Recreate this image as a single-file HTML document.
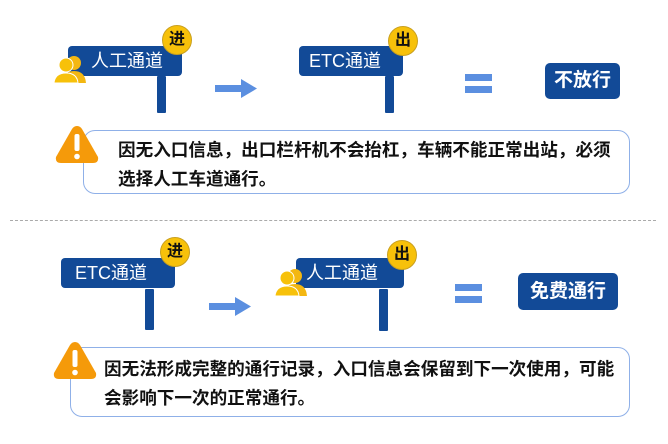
<!DOCTYPE html>
<html><head><meta charset="utf-8"><style>
body{margin:0;width:668px;height:444px;background:#fff;position:relative;overflow:hidden;font-family:"Liberation Sans","Noto Sans CJK SC",sans-serif}
.a{position:absolute}
.sign{position:absolute;background:#124a97;border-radius:4px;color:#fff;font-size:18px;line-height:30px;height:30px}
.post{position:absolute;background:#124a97;border-radius:1px}
.badge{position:absolute;width:28px;height:28px;border-radius:50%;background:#f7c10a;border:1px solid #c9a020;font-size:16px;font-weight:bold;text-align:center;line-height:28px;color:#111}
.eq{position:absolute;background:#5b8fe0;height:7px}
.res{position:absolute;background:#124a97;border-radius:5px;color:#fff;font-weight:bold;font-size:19px;text-align:center}
.box{position:absolute;border:1.5px solid #8fb0e8;border-radius:12px;font-weight:bold;font-size:17.6px;color:#111;line-height:29px}
</style></head><body>
<!-- top -->
<div class="sign" style="left:68px;top:46px;width:114px;padding-left:0"><span style="position:absolute;left:23px">人工通道</span></div>
<div class="post" style="left:157px;top:76px;width:9px;height:37px"></div>
<div class="badge" style="left:162px;top:25px">进</div>
<svg class="a" style="left:54px;top:55px" width="34" height="30"><circle cx="20" cy="8" r="7" fill="#f3b712"/><path d="M8 28 Q9 16 20 16 Q31 16 32 28Z" fill="#f3b712"/><circle cx="12" cy="10" r="7" fill="#f7c10a" stroke="#fff" stroke-width="1"/><path d="M0 28 Q1 18 12 18 Q23 18 24 28Z" fill="#f7c10a" stroke="#fff" stroke-width="1"/></svg>
<svg class="a" style="left:215px;top:79px" width="44" height="20"><rect x="0" y="6" width="28" height="7" fill="#5b8fe0"/><polygon points="26,0 42,9.5 26,19" fill="#5b8fe0"/></svg>
<div class="sign" style="left:299px;top:46px;width:104px"><span style="position:absolute;left:10px">ETC通道</span></div>
<div class="post" style="left:385px;top:76px;width:9px;height:37px"></div>
<div class="badge" style="left:388px;top:26px">出</div>
<div class="eq" style="left:465px;top:74px;width:27px"></div>
<div class="eq" style="left:465px;top:86px;width:27px"></div>
<div class="res" style="left:545px;top:63px;width:75px;height:36px;line-height:36px">不放行</div>
<div class="box" style="left:83px;top:130px;width:545px;height:62px"><div style="position:absolute;left:34px;top:5px;white-space:nowrap">因无入口信息，出口栏杆机不会抬杠，车辆不能正常出站，必须<br>选择人工车道通行。</div></div>
<svg class="a" style="left:54px;top:123px" width="46" height="42"><path d="M23 3 Q26 3 28 6 L44 34 Q45 40 39 40 L7 40 Q1 40 2 34 L18 6 Q20 3 23 3Z" fill="#f59a0a"/><rect x="20.5" y="11" width="5" height="17" rx="2" fill="#fff"/><circle cx="23" cy="33.5" r="2.8" fill="#fff"/></svg>
<!-- dashed -->
<div class="a" style="left:10px;top:220px;width:646px;border-top:1.5px dashed #aaa"></div>
<!-- bottom -->
<div class="sign" style="left:61px;top:258px;width:114px"><span style="position:absolute;left:14px">ETC通道</span></div>
<div class="post" style="left:145px;top:289px;width:9px;height:41px"></div>
<div class="badge" style="left:160px;top:237px">进</div>
<svg class="a" style="left:209px;top:297px" width="44" height="20"><rect x="0" y="6" width="28" height="7" fill="#5b8fe0"/><polygon points="26,0 42,9.5 26,19" fill="#5b8fe0"/></svg>
<div class="sign" style="left:296px;top:258px;width:108px"><span style="position:absolute;left:10px">人工通道</span></div>
<div class="post" style="left:379px;top:289px;width:9px;height:42px"></div>
<svg class="a" style="left:275px;top:268px" width="34" height="30"><circle cx="20" cy="8" r="7" fill="#f3b712"/><path d="M8 28 Q9 16 20 16 Q31 16 32 28Z" fill="#f3b712"/><circle cx="12" cy="10" r="7" fill="#f7c10a" stroke="#fff" stroke-width="1"/><path d="M0 28 Q1 18 12 18 Q23 18 24 28Z" fill="#f7c10a" stroke="#fff" stroke-width="1"/></svg>
<div class="badge" style="left:387px;top:240px">出</div>
<div class="eq" style="left:455px;top:284px;width:27px"></div>
<div class="eq" style="left:455px;top:296px;width:27px"></div>
<div class="res" style="left:518px;top:273px;width:100px;height:37px;line-height:37px">免费通行</div>
<div class="box" style="left:70px;top:347px;width:558px;height:68px"><div style="position:absolute;left:33px;top:7px;white-space:nowrap">因无法形成完整的通行记录，入口信息会保留到下一次使用，可能<br>会影响下一次的正常通行。</div></div>
<svg class="a" style="left:52px;top:339px" width="46" height="42"><path d="M23 3 Q26 3 28 6 L44 34 Q45 40 39 40 L7 40 Q1 40 2 34 L18 6 Q20 3 23 3Z" fill="#f59a0a"/><rect x="20.5" y="11" width="5" height="17" rx="2" fill="#fff"/><circle cx="23" cy="33.5" r="2.8" fill="#fff"/></svg>
</body></html>
